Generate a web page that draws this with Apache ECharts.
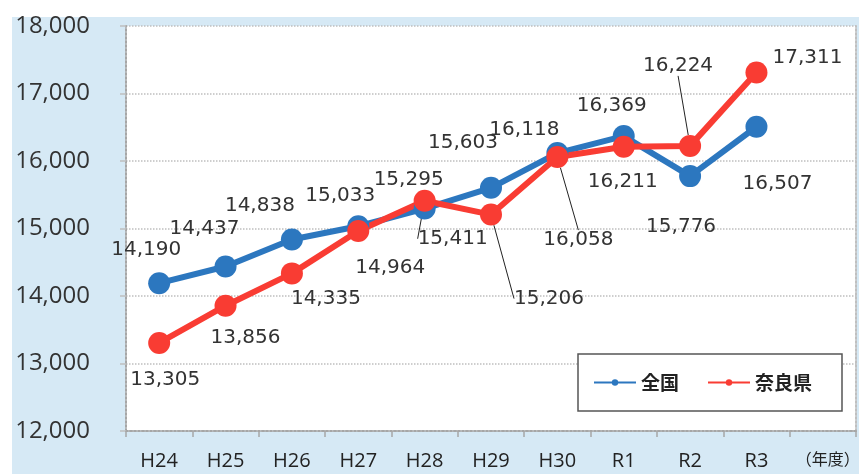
<!DOCTYPE html>
<html>
<head>
<meta charset="utf-8">
<script src="https://cdn.jsdelivr.net/npm/echarts@6/dist/echarts.min.js"></script>
<style>
  html, body { margin: 0; padding: 0; background: #fff; }
  #chart { width: 859px; height: 474px; }
</style>
</head>
<body>
<div id="chart"></div>
<script>
const categories = ['H24', 'H25', 'H26', 'H27', 'H28', 'H29', 'H30', 'R1', 'R2', 'R3', '（年度）'];
const zenkoku = [14190, 14437, 14838, 15033, 15295, 15603, 16118, 16369, 15776, 16507];
const naraken = [13305, 13856, 14335, 14964, 15411, 15206, 16058, 16211, 16224, 17311];

// label centre offset from its point, in px
const zenkokuLabelOffsets = [[-13, -33], [-21, -38], [-32, -34], [-18, -30], [-16, -29], [-28, -45], [-33, -23], [-12, -30], [-9, 51], [21, 57]];
const narakenLabelOffsets = [[6, 37], [20, 32], [34, 25], [32, 37], [28, 38], [58, 84], [21, 83], [-1, 35], [-12, -80], [51, -15]];
const narakenLeaders = [4, 5, 6, 8];

const BLUE = '#2c77bf';
const RED = '#f93c33';
const TEXT = '#333';

const chart = echarts.init(document.getElementById('chart'));

function lineSeries(name, values, color, offsets, leaders) {
  return {
    name: name,
    type: 'line',
    data: values.map((v, i) => ({
      value: v,
      labelLine: { show: leaders.includes(i) },
    })),
    symbol: 'circle',
    symbolSize: 22,
    lineStyle: { width: 6, color: color },
    itemStyle: { color: color },
    label: {
      show: true,
      position: 'inside',
      color: TEXT,
      fontFamily: 'DejaVu Sans',
      fontSize: 20,
      formatter: (p) => p.value.toLocaleString('en-US'),
    },
    labelLine: { show: false, lineStyle: { color: '#222', width: 1 } },
    labelLayout: (p) => ({
      dx: offsets[p.dataIndex][0],
      dy: offsets[p.dataIndex][1],
    }),
    emphasis: { disabled: true },
  };
}

const option = {
  animation: false,
  backgroundColor: '#fff',
  graphic: [{
    type: 'rect',
    z: -10,
    shape: { x: 12, y: 17, width: 847, height: 457 },
    style: { fill: '#d6e9f5' },
  }],
  grid: {
    left: 126, right: 3, top: 26, bottom: 43,
    outerBoundsMode: 'none',
    show: true, backgroundColor: '#fff', borderWidth: 0,
  },
  legend: {
    left: 578, top: 354,
    padding: [19, 30, 19, 15],
    backgroundColor: '#fff',
    borderColor: '#555',
    borderWidth: 1.5,
    itemWidth: 42, itemHeight: 8, itemGap: 28,
    textStyle: { fontFamily: 'Noto Sans CJK JP', fontSize: 19, fontWeight: 'bold', color: '#222' },
    data: ['全国', '奈良県'],
  },
  xAxis: {
    type: 'category',
    data: categories,
    boundaryGap: true,
    axisLine: { lineStyle: { color: '#a6a6a6', width: 2, type: 'dotted' } },
    axisTick: { show: true, interval: 0, length: 6, lineStyle: { color: '#a6a6a6', width: 1.5 } },
    axisLabel: {
      interval: 0,
      margin: 20,
      color: '#222',
      fontFamily: 'Open Sans',
      fontSize: 20,
      formatter: (v) => v === '（年度）' ? '{s|' + v + '}' : v,
      rich: { s: { fontFamily: 'Noto Sans CJK JP', fontSize: 16, color: '#222', padding: [0, 0, 0, 10] } },
    },
  },
  yAxis: [{
    type: 'value',
    min: 12000, max: 18000, interval: 1000,
    axisLine: { show: true, lineStyle: { color: '#a6a6a6', width: 2, type: 'dotted' } },
    axisTick: { show: true, length: 6, lineStyle: { color: '#bfbfbf', width: 1.5 } },
    axisLabel: {
      margin: 36,
      color: '#333',
      fontFamily: 'Open Sans',
      fontSize: 24,
      formatter: (v) => v.toLocaleString('en-US'),
    },
    splitLine: { lineStyle: { color: '#bfbfbf', width: 1.5, type: 'dotted' } },
  }, {
    type: 'value',
    position: 'right',
    min: 12000, max: 18000, interval: 1000,
    axisLine: { show: true, lineStyle: { color: '#bfbfbf', width: 2, type: 'dotted' } },
    axisTick: { show: false },
    axisLabel: { show: false },
    splitLine: { show: false },
  }],
  series: [
    lineSeries('全国', zenkoku, BLUE, zenkokuLabelOffsets, []),
    lineSeries('奈良県', naraken, RED, narakenLabelOffsets, narakenLeaders),
  ],
};

chart.setOption(option);
</script>
</body>
</html>
